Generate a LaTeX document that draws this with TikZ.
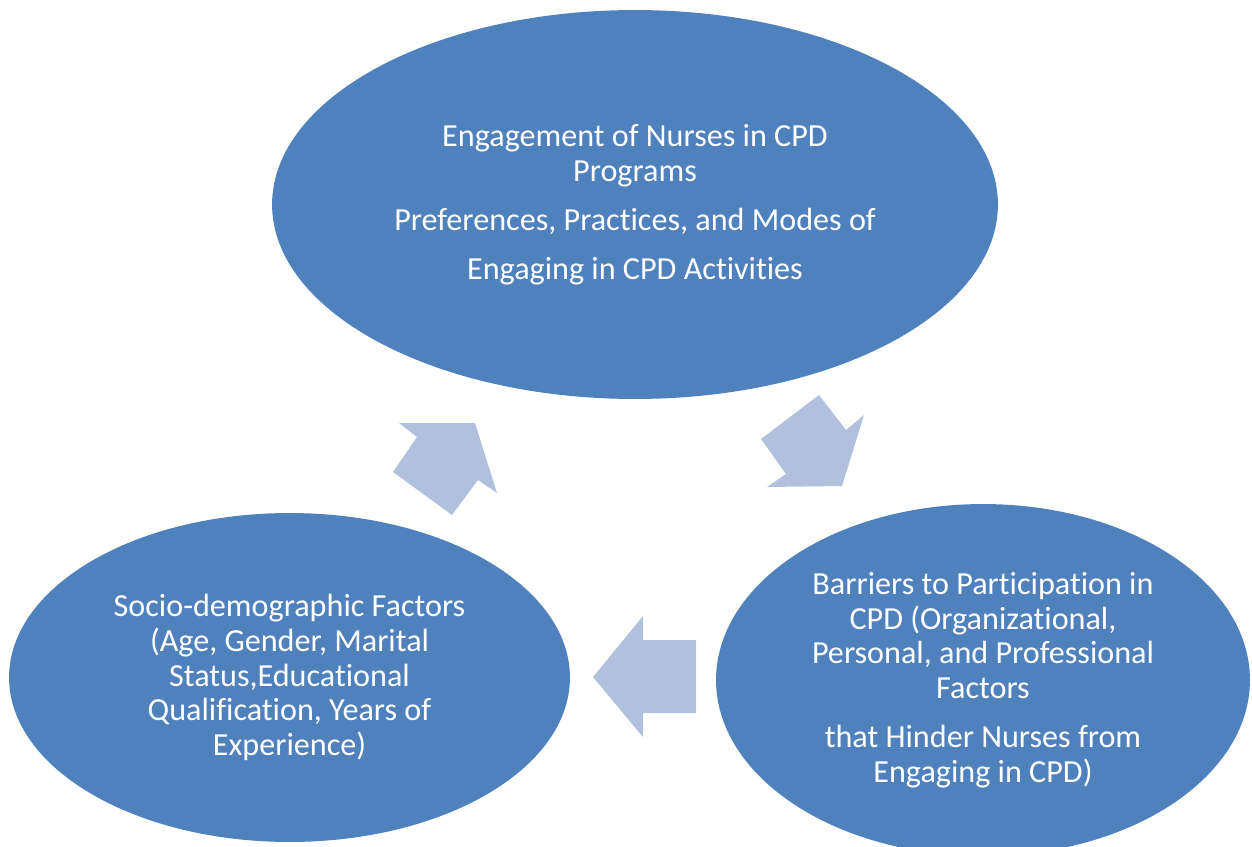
\documentclass[tikz,border=0pt]{standalone}
\usepackage{fontspec}
\setmainfont[RawFeature=-liga]{Carlito}
\usepackage{tikz}
\usetikzlibrary{shapes.geometric}
\definecolor{ovalblue}{RGB}{79,129,189}
\definecolor{cyclefill}{RGB}{177,193,221}
\tikzset{
  oval/.style={ellipse,fill=ovalblue,inner sep=0pt,align=center,text=white,
    font=\fontsize{18.3}{19.8}\selectfont},
  cyclearrow/.style={fill=cyclefill}
}

\begin{document}
\begin{tikzpicture}[x=0.02cm,y=-0.02cm]
\useasboundingbox (0,0) rectangle (1252,846);
\clip (0,0) rectangle (1252,846);
% the three stages
\node[oval,minimum width=14.52cm,minimum height=7.78cm] (engage) at (635,204.5)
  {Engagement of Nurses in CPD\\Programs\\[8pt]Preferences, Practices, and Modes of\\[8pt]Engaging in CPD Activities};
\node[oval,minimum width=10.68cm,minimum height=7.04cm] (barrier) at (983,680)
  {Barriers to Participation in\\CPD (Organizational,\\Personal, and Professional\\Factors\\[8pt]that Hinder Nurses from\\Engaging in CPD)};
\node[oval,minimum width=11.22cm,minimum height=6.58cm] (socio) at (289.5,677.5)
  {Socio-demographic Factors\\(Age, Gender, Marital\\Status,Educational\\Qualification, Years of\\Experience)};
% block arrows of the cycle
\fill[cyclearrow] (761,439) -- (819,395) -- (846,430) -- (864,415) -- (842,486) -- (767,487) -- (786,474) -- cycle;
\fill[cyclearrow] (696,640) -- (696,713) -- (643,713) -- (643,737) -- (593,677) -- (643,616) -- (643,640) -- cycle;
\fill[cyclearrow] (452,515) -- (393,472) -- (417,437) -- (399,423) -- (475,423) -- (497,493) -- (478,480) -- cycle;
\end{tikzpicture}
\end{document}
